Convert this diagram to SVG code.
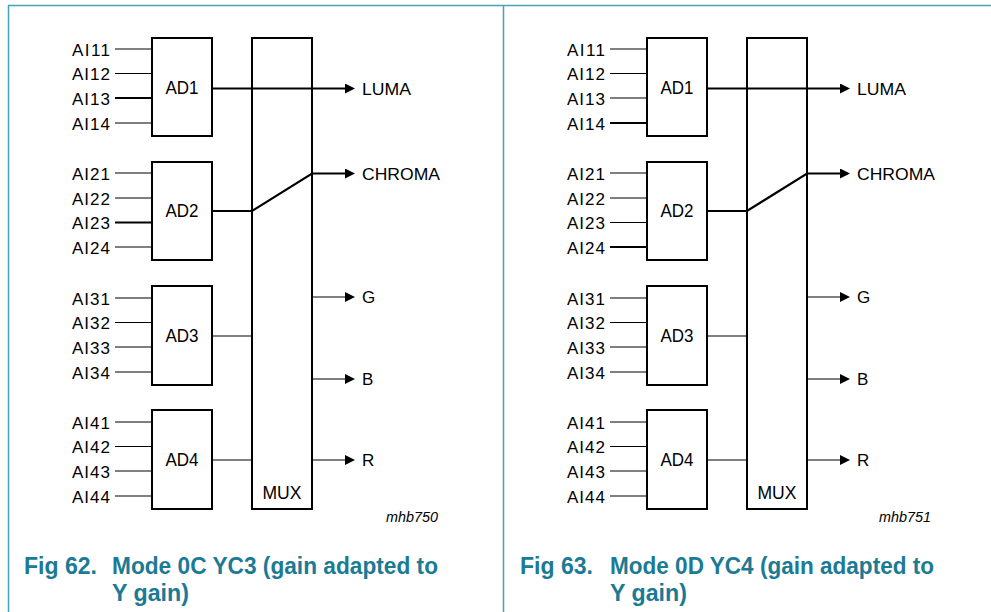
<svg xmlns="http://www.w3.org/2000/svg" width="991" height="612" viewBox="0 0 991 612">
<style>
  .frame{stroke:#4a9fb9;stroke-width:1.5;fill:none}
  .box{fill:#fff;stroke:#000;stroke-width:2}
  .thin{stroke:#000;stroke-width:1.1;fill:none}
  .thick{stroke:#000;stroke-width:2.2;fill:none}
  .lbl{font-family:"Liberation Sans",Arial,sans-serif;font-size:17px;fill:#000}
  .in{font-family:"Liberation Sans",Arial,sans-serif;font-size:17px;fill:#000;text-anchor:end}
  .ad{font-family:"Liberation Sans",Arial,sans-serif;font-size:17.5px;fill:#000;text-anchor:middle}
  .code{font-family:"Liberation Sans",Arial,sans-serif;font-size:14px;font-style:italic;fill:#000;text-anchor:end}
  .cap{font-family:"Liberation Sans Narrow","Liberation Sans",Arial,sans-serif;font-size:23px;font-weight:bold;fill:#1b7a94}
</style>
<defs>
  <marker id="arr" viewBox="0 0 10 10" refX="0" refY="5" markerWidth="10" markerHeight="10" markerUnits="userSpaceOnUse" orient="auto">
    <path d="M0,0 L10,5 L0,10 Z" fill="#000"/>
  </marker>
</defs>
<rect width="991" height="612" fill="#fff"/>
<g id="frame">
  <line class="frame" x1="8" y1="5.5" x2="991" y2="5.5"/>
  <line class="frame" x1="8.5" y1="5" x2="8.5" y2="612" stroke="#1f82a0"/>
  <line class="frame" x1="503.5" y1="5" x2="503.5" y2="612"/>
</g>

<!-- LEFT PANEL -->
<g id="panel62">
  <g id="connectors62">
    <line class="thin" x1="115" y1="49" x2="152" y2="49"/>
    <line class="thin" x1="115" y1="73.5" x2="152" y2="73.5"/>
    <line class="thick" x1="115" y1="98" x2="152" y2="98"/>
    <line class="thin" x1="115" y1="123" x2="152" y2="123"/>
    <line class="thin" x1="115" y1="173" x2="152" y2="173"/>
    <line class="thin" x1="115" y1="198" x2="152" y2="198"/>
    <line class="thick" x1="115" y1="222.5" x2="152" y2="222.5"/>
    <line class="thin" x1="115" y1="247" x2="152" y2="247"/>
    <line class="thin" x1="115" y1="298" x2="152" y2="298"/>
    <line class="thin" x1="115" y1="322.5" x2="152" y2="322.5"/>
    <line class="thin" x1="115" y1="347" x2="152" y2="347"/>
    <line class="thin" x1="115" y1="372" x2="152" y2="372"/>
    <line class="thin" x1="115" y1="422" x2="152" y2="422"/>
    <line class="thin" x1="115" y1="446.5" x2="152" y2="446.5"/>
    <line class="thin" x1="115" y1="471" x2="152" y2="471"/>
    <line class="thin" x1="115" y1="496" x2="152" y2="496"/>
  </g>
  <g id="ad1_62"><rect class="box" x="152" y="38" width="60" height="98"/><text class="ad" x="182" y="94" textLength="33" lengthAdjust="spacingAndGlyphs">AD1</text></g>
  <g id="ad2_62"><rect class="box" x="152" y="162" width="60" height="98"/><text class="ad" x="182" y="217" textLength="33" lengthAdjust="spacingAndGlyphs">AD2</text></g>
  <g id="ad3_62"><rect class="box" x="152" y="286" width="60" height="99"/><text class="ad" x="182" y="342" textLength="33" lengthAdjust="spacingAndGlyphs">AD3</text></g>
  <g id="ad4_62"><rect class="box" x="152" y="410" width="60" height="99"/><text class="ad" x="182" y="466" textLength="33" lengthAdjust="spacingAndGlyphs">AD4</text></g>
  <g id="mux_62"><rect class="box" x="252" y="38" width="60" height="471"/><text class="ad" x="282" y="499" textLength="39" lengthAdjust="spacingAndGlyphs">MUX</text></g>
  <g id="outputs62">
    <line class="thick" x1="212" y1="88.5" x2="345" y2="88.5" marker-end="url(#arr)"/>
    <polyline class="thick" points="212,211 252,211 312,173.5 345,173.5" marker-end="url(#arr)"/>
    <line class="thin" x1="212" y1="336" x2="252" y2="336"/>
    <line class="thin" x1="212" y1="460" x2="252" y2="460"/>
    <line class="thin" x1="312" y1="297" x2="345" y2="297" marker-end="url(#arr)"/>
    <line class="thin" x1="312" y1="379" x2="345" y2="379" marker-end="url(#arr)"/>
    <line class="thin" x1="312" y1="460" x2="345" y2="460" marker-end="url(#arr)"/>
  </g>
  <g id="labels62">
    <text class="in" x="110" y="55.5" textLength="38">AI11</text>
    <text class="in" x="110" y="80" textLength="38">AI12</text>
    <text class="in" x="110" y="104.5" textLength="38">AI13</text>
    <text class="in" x="110" y="129.5" textLength="38">AI14</text>
    <text class="in" x="110" y="179.5" textLength="38">AI21</text>
    <text class="in" x="110" y="204.5" textLength="38">AI22</text>
    <text class="in" x="110" y="229" textLength="38">AI23</text>
    <text class="in" x="110" y="253.5" textLength="38">AI24</text>
    <text class="in" x="110" y="304.5" textLength="38">AI31</text>
    <text class="in" x="110" y="329" textLength="38">AI32</text>
    <text class="in" x="110" y="353.5" textLength="38">AI33</text>
    <text class="in" x="110" y="378.5" textLength="38">AI34</text>
    <text class="in" x="110" y="428.5" textLength="38">AI41</text>
    <text class="in" x="110" y="453" textLength="38">AI42</text>
    <text class="in" x="110" y="477.5" textLength="38">AI43</text>
    <text class="in" x="110" y="502.5" textLength="38">AI44</text>
    <text class="lbl" x="362" y="95" textLength="49" lengthAdjust="spacingAndGlyphs">LUMA</text>
    <text class="lbl" x="362" y="179.5" textLength="78" lengthAdjust="spacingAndGlyphs">CHROMA</text>
    <text class="lbl" x="362" y="303">G</text>
    <text class="lbl" x="362" y="385">B</text>
    <text class="lbl" x="362" y="466">R</text>
    <text class="code" x="438" y="522" textLength="52" lengthAdjust="spacingAndGlyphs">mhb750</text>
  </g>
  <g id="caption62">
    <text class="cap" x="24" y="574" textLength="73" lengthAdjust="spacingAndGlyphs">Fig 62.</text>
    <text class="cap" x="112" y="574" textLength="326" lengthAdjust="spacingAndGlyphs">Mode 0C YC3 (gain adapted to</text>
    <text class="cap" x="112" y="601" textLength="77" lengthAdjust="spacingAndGlyphs">Y gain)</text>
  </g>
</g>

<!-- RIGHT PANEL -->
<g id="panel63">
  <g id="connectors63">
    <line class="thin" x1="610" y1="49" x2="647" y2="49"/>
    <line class="thin" x1="610" y1="73.5" x2="647" y2="73.5"/>
    <line class="thin" x1="610" y1="98" x2="647" y2="98"/>
    <line class="thick" x1="610" y1="123" x2="647" y2="123"/>
    <line class="thin" x1="610" y1="173" x2="647" y2="173"/>
    <line class="thin" x1="610" y1="198" x2="647" y2="198"/>
    <line class="thin" x1="610" y1="222.5" x2="647" y2="222.5"/>
    <line class="thick" x1="610" y1="247" x2="647" y2="247"/>
    <line class="thin" x1="610" y1="298" x2="647" y2="298"/>
    <line class="thin" x1="610" y1="322.5" x2="647" y2="322.5"/>
    <line class="thin" x1="610" y1="347" x2="647" y2="347"/>
    <line class="thin" x1="610" y1="372" x2="647" y2="372"/>
    <line class="thin" x1="610" y1="422" x2="647" y2="422"/>
    <line class="thin" x1="610" y1="446.5" x2="647" y2="446.5"/>
    <line class="thin" x1="610" y1="471" x2="647" y2="471"/>
    <line class="thin" x1="610" y1="496" x2="647" y2="496"/>
  </g>
  <g id="ad1_63"><rect class="box" x="647" y="38" width="60" height="98"/><text class="ad" x="677" y="94" textLength="33" lengthAdjust="spacingAndGlyphs">AD1</text></g>
  <g id="ad2_63"><rect class="box" x="647" y="162" width="60" height="98"/><text class="ad" x="677" y="217" textLength="33" lengthAdjust="spacingAndGlyphs">AD2</text></g>
  <g id="ad3_63"><rect class="box" x="647" y="286" width="60" height="99"/><text class="ad" x="677" y="342" textLength="33" lengthAdjust="spacingAndGlyphs">AD3</text></g>
  <g id="ad4_63"><rect class="box" x="647" y="410" width="60" height="99"/><text class="ad" x="677" y="466" textLength="33" lengthAdjust="spacingAndGlyphs">AD4</text></g>
  <g id="mux_63"><rect class="box" x="747" y="38" width="60" height="471"/><text class="ad" x="777" y="499" textLength="39" lengthAdjust="spacingAndGlyphs">MUX</text></g>
  <g id="outputs63">
    <line class="thick" x1="707" y1="88.5" x2="840" y2="88.5" marker-end="url(#arr)"/>
    <polyline class="thick" points="707,211 747,211 807,173.5 840,173.5" marker-end="url(#arr)"/>
    <line class="thin" x1="707" y1="336" x2="747" y2="336"/>
    <line class="thin" x1="707" y1="460" x2="747" y2="460"/>
    <line class="thin" x1="807" y1="297" x2="840" y2="297" marker-end="url(#arr)"/>
    <line class="thin" x1="807" y1="379" x2="840" y2="379" marker-end="url(#arr)"/>
    <line class="thin" x1="807" y1="460" x2="840" y2="460" marker-end="url(#arr)"/>
  </g>
  <g id="labels63">
    <text class="in" x="605" y="55.5" textLength="38">AI11</text>
    <text class="in" x="605" y="80" textLength="38">AI12</text>
    <text class="in" x="605" y="104.5" textLength="38">AI13</text>
    <text class="in" x="605" y="129.5" textLength="38">AI14</text>
    <text class="in" x="605" y="179.5" textLength="38">AI21</text>
    <text class="in" x="605" y="204.5" textLength="38">AI22</text>
    <text class="in" x="605" y="229" textLength="38">AI23</text>
    <text class="in" x="605" y="253.5" textLength="38">AI24</text>
    <text class="in" x="605" y="304.5" textLength="38">AI31</text>
    <text class="in" x="605" y="329" textLength="38">AI32</text>
    <text class="in" x="605" y="353.5" textLength="38">AI33</text>
    <text class="in" x="605" y="378.5" textLength="38">AI34</text>
    <text class="in" x="605" y="428.5" textLength="38">AI41</text>
    <text class="in" x="605" y="453" textLength="38">AI42</text>
    <text class="in" x="605" y="477.5" textLength="38">AI43</text>
    <text class="in" x="605" y="502.5" textLength="38">AI44</text>
    <text class="lbl" x="857" y="95" textLength="49" lengthAdjust="spacingAndGlyphs">LUMA</text>
    <text class="lbl" x="857" y="179.5" textLength="78" lengthAdjust="spacingAndGlyphs">CHROMA</text>
    <text class="lbl" x="857" y="303">G</text>
    <text class="lbl" x="857" y="385">B</text>
    <text class="lbl" x="857" y="466">R</text>
    <text class="code" x="931" y="522" textLength="52" lengthAdjust="spacingAndGlyphs">mhb751</text>
  </g>
  <g id="caption63">
    <text class="cap" x="520" y="574" textLength="73" lengthAdjust="spacingAndGlyphs">Fig 63.</text>
    <text class="cap" x="610" y="574" textLength="324" lengthAdjust="spacingAndGlyphs">Mode 0D YC4 (gain adapted to</text>
    <text class="cap" x="610" y="601" textLength="77" lengthAdjust="spacingAndGlyphs">Y gain)</text>
  </g>
</g>
</svg>
